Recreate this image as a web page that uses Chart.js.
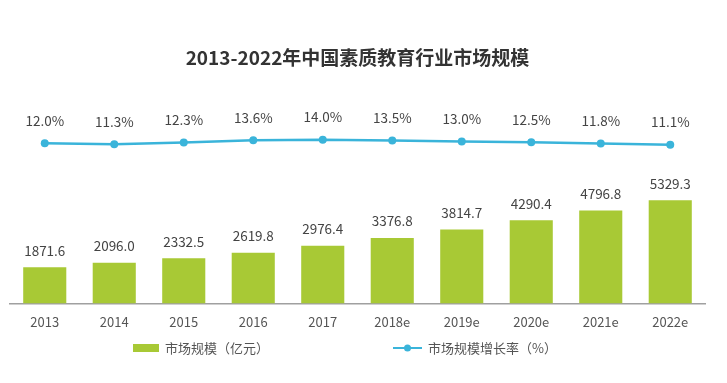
<!DOCTYPE html>
<html>
<head>
<meta charset="utf-8">
<script src="https://cdn.jsdelivr.net/npm/chart.js@4/dist/chart.umd.min.js"></script>
<style>
  html, body { margin: 0; padding: 0; background: #fff; }
  #wrap { width: 727px; height: 383px; }
</style>
</head>
<body>
<div id="wrap"><canvas id="chart"></canvas></div>
<script>
const years = ['2013','2014','2015','2016','2017','2018e','2019e','2020e','2021e','2022e'];
const marketSize = [1871.6, 2096.0, 2332.5, 2619.8, 2976.4, 3376.8, 3814.7, 4290.4, 4796.8, 5329.3];
const growthRate = [12.0, 11.3, 12.3, 13.6, 14.0, 13.5, 13.0, 12.5, 11.8, 11.1];

const FONT = '"Noto Sans CJK SC", "Open Sans", sans-serif';
const BAR_COLOR = '#a8c935';
const LINE_COLOR = '#3ab4da';

// value labels above bars and points
const labelPlugin = {
  id: 'valueLabels',
  afterDatasetsDraw(chart) {
    const ctx = chart.ctx;
    ctx.save();
    ctx.font = '13.5px ' + FONT;
    ctx.fillStyle = '#444';
    ctx.textAlign = 'center';
    ctx.textBaseline = 'bottom';
    chart.getDatasetMeta(1).data.forEach((bar, i) => {
      ctx.fillText(marketSize[i].toFixed(1), bar.x, bar.y - 10);
    });
    chart.getDatasetMeta(0).data.forEach((pt, i) => {
      ctx.fillText(growthRate[i].toFixed(1) + '%', pt.x, pt.y - 16);
    });
    ctx.restore();
  }
};

// legend drawn at the bottom
const legendPlugin = {
  id: 'bottomLegend',
  afterDraw(chart) {
    const ctx = chart.ctx;
    const y = 348;
    ctx.save();
    ctx.font = '13px ' + FONT;
    ctx.fillStyle = '#555';
    ctx.textBaseline = 'middle';
    ctx.textAlign = 'left';

    ctx.fillStyle = BAR_COLOR;
    ctx.fillRect(133, y - 4, 26, 8);
    ctx.fillStyle = '#555';
    ctx.fillText('市场规模（亿元）', 165, y);

    ctx.strokeStyle = LINE_COLOR;
    ctx.lineWidth = 2;
    ctx.beginPath();
    ctx.moveTo(393, y);
    ctx.lineTo(422, y);
    ctx.stroke();
    ctx.fillStyle = LINE_COLOR;
    ctx.beginPath();
    ctx.arc(407.5, y, 3.5, 0, Math.PI * 2);
    ctx.fill();
    ctx.fillStyle = '#555';
    ctx.fillText('市场规模增长率（%）', 428, y);
    ctx.restore();
  }
};

new Chart(document.getElementById('chart'), {
  data: {
    labels: years,
    datasets: [
      {
        type: 'line',
        label: '市场规模增长率（%）',
        data: growthRate,
        yAxisID: 'yRate',
        borderColor: LINE_COLOR,
        backgroundColor: LINE_COLOR,
        borderWidth: 2.5,
        pointRadius: 4,
        pointBackgroundColor: LINE_COLOR,
        pointBorderWidth: 0,
        tension: 0
      },
      {
        type: 'bar',
        label: '市场规模（亿元）',
        data: marketSize,
        yAxisID: 'ySize',
        backgroundColor: BAR_COLOR,
        categoryPercentage: 1,
        barPercentage: 0.62
      }
    ]
  },
  options: {
    responsive: true,
    maintainAspectRatio: false,
    animation: false,
    layout: { padding: { left: 10, right: 22, top: 0, bottom: 50 } },
    plugins: {
      legend: { display: false },
      tooltip: { enabled: false },
      title: {
        display: true,
        text: '2013-2022年中国素质教育行业市场规模',
        color: '#333',
        font: { family: FONT, size: 19, weight: 'bold' },
        padding: { top: 46, bottom: 36 }
      }
    },
    scales: {
      x: {
        grid: { display: false },
        border: { display: true, color: '#a0a0a0', width: 1.5 },
        ticks: { color: '#555', font: { family: FONT, size: 13 }, padding: 3 }
      },
      ySize: {
        display: false,
        position: 'left',
        min: 0,
        max: 10250
      },
      yRate: {
        display: false,
        position: 'right',
        min: -80,
        max: 34
      }
    }
  },
  plugins: [labelPlugin, legendPlugin]
});
</script>
</body>
</html>
